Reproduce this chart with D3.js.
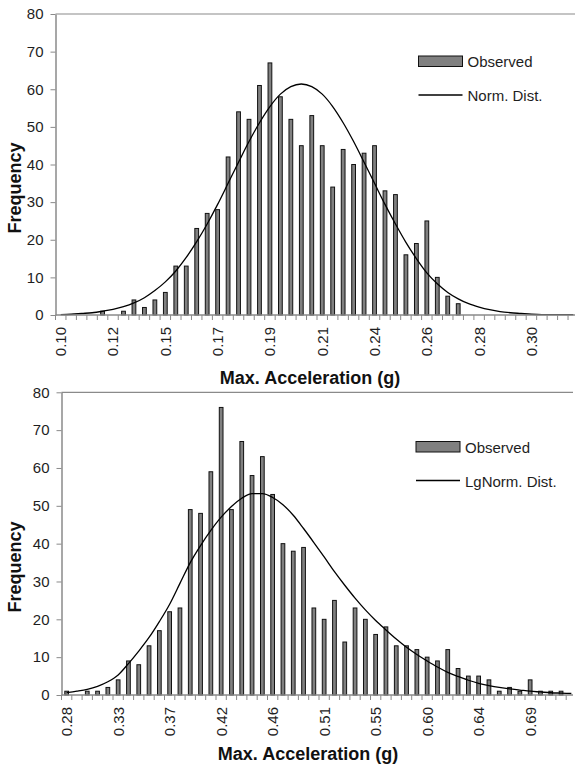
<!DOCTYPE html>
<html>
<head>
<meta charset="utf-8">
<script src="https://cdn.jsdelivr.net/npm/d3@7/dist/d3.min.js"></script>
<style>
  body { margin: 0; background: #fff; }
  text { font-family: "Liberation Sans", Arial, sans-serif; fill: #1e1e1e; }
</style>
</head>
<body>
<svg id="chart" width="576" height="765"></svg>
<script>
// *********** DATA ***************** //
// one value per bin, 50 bins per panel; labels are shown on every 5th bin
var yTicks = [0, 10, 20, 30, 40, 50, 60, 70, 80];

var topLabels = ["0.10", "0.12", "0.15", "0.17", "0.19", "0.21", "0.24", "0.26", "0.28", "0.30"];
var topObserved = [0, 0, 0, 0, 1, 0, 1, 4, 2, 4,
                   6, 13, 13, 23, 27, 28, 42, 54, 52, 61,
                   67, 58, 52, 45, 53, 45, 34, 44, 40, 43,
                   45, 33, 32, 16, 19, 25, 10, 5, 3, 0,
                   0, 0, 0, 0, 0, 0, 0, 0, 0, 0];
var topNormal = [0.1, 0.2, 0.4, 0.6, 1.0, 1.5, 2.2, 3.2, 4.6, 6.5,
                 8.8, 11.7, 15.3, 19.5, 24.2, 29.4, 35.0, 40.6, 46.1, 51.1,
                 55.4, 58.7, 60.7, 61.4, 60.7, 58.7, 55.4, 51.1, 46.1, 40.6,
                 35.0, 29.4, 24.2, 19.3, 15.0, 11.2, 8.3, 6.0, 4.3, 3.0,
                 2.1, 1.4, 0.9, 0.6, 0.4, 0.2, 0.1, 0.1, 0.1, 0.1];

var bottomLabels = ["0.28", "0.33", "0.37", "0.42", "0.46", "0.51", "0.55", "0.60", "0.64", "0.69"];
var bottomObserved = [1, 0, 1, 1, 2, 4, 9, 8, 13, 17,
                      22, 23, 49, 48, 59, 76, 49, 67, 58, 63,
                      53, 40, 38, 39, 23, 20, 25, 14, 23, 20,
                      16, 18, 13, 13, 12, 10, 9, 12, 7, 5,
                      5, 4, 1, 2, 1, 4, 1, 1, 1, 0];
var bottomLgNormal = [0.6, 1.0, 1.5, 2.3, 3.5, 5.3, 8.3, 11.6, 15.2, 19.4,
                      24.0, 29.5, 35.0, 39.5, 43.5, 47.0, 49.8, 52.0, 53.2, 53.2,
                      52.2, 50.3, 47.5, 44.0, 40.3, 36.5, 32.6, 29.0, 25.6, 22.5,
                      19.7, 17.2, 14.8, 12.6, 10.7, 9.0, 7.4, 6.0, 4.9, 3.9,
                      3.1, 2.5, 2.0, 1.6, 1.3, 1.0, 0.8, 0.6, 0.5, 0.4];

var svg = d3.select("#chart");

// *********** PANEL ***************** //
function drawPanel(opt) {
  var bins = d3.range(opt.observed.length);
  var x = d3.scaleBand()
    .domain(bins)
    .range([opt.left, opt.left + opt.step * bins.length]);
  var y = d3.scaleLinear()
    .domain([0, 80])
    .range([opt.bottom, opt.top]);
  var g = svg.append("g");
  var half = x.bandwidth() / 2;
  var barW = x.bandwidth() * 0.36;

  // top line at 80
  g.append("line")
    .attr("x1", opt.left).attr("x2", opt.axisEnd)
    .attr("y1", y(80)).attr("y2", y(80))
    .attr("stroke", "#8a8a8a")
    .attr("stroke-width", 1.2);

  // bars (empty bins are skipped)
  g.selectAll("rect.bar")
    .data(bins.filter(function(i) { return opt.observed[i] > 0; }))
    .enter().append("rect")
    .attr("class", "bar")
    .attr("x", function(i) { return x(i) + half - barW / 2; })
    .attr("y", function(i) { return y(opt.observed[i]); })
    .attr("width", barW)
    .attr("height", function(i) { return y(0) - y(opt.observed[i]); })
    .attr("fill", "#808080")
    .attr("stroke", "#111")
    .attr("stroke-width", 1);

  // fitted curve
  var line = d3.line()
    .x(function(d, i) { return x(i) + half; })
    .y(function(d) { return y(d); })
    .curve(d3.curveMonotoneX);
  g.append("path")
    .datum(opt.curve)
    .attr("d", line)
    .attr("fill", "none")
    .attr("stroke", "#000")
    .attr("stroke-width", 1.3);

  // y axis
  var yAxis = g.append("g")
    .attr("transform", "translate(" + opt.left + ",0)")
    .call(d3.axisLeft(y).tickValues(yTicks).tickSize(5).tickSizeOuter(0).tickPadding(7));
  yAxis.select(".domain").attr("stroke", "#8a8a8a").attr("stroke-width", 1.5);
  yAxis.selectAll(".tick line").attr("stroke", "#8a8a8a");
  yAxis.selectAll(".tick text")
    .style("font-size", "15px")
    .attr("fill", "#1e1e1e");

  // x axis line and bin ticks
  g.append("line")
    .attr("x1", opt.left).attr("x2", opt.axisEnd)
    .attr("y1", y(0)).attr("y2", y(0))
    .attr("stroke", "#8a8a8a")
    .attr("stroke-width", 1.5);
  var edges = bins.map(function(i) { return x(i); })
    .filter(function(v) { return v <= opt.axisEnd; });
  g.selectAll("line.xtick")
    .data(edges)
    .enter().append("line")
    .attr("class", "xtick")
    .attr("x1", function(d) { return d; }).attr("x2", function(d) { return d; })
    .attr("y1", y(0)).attr("y2", y(0) + 5)
    .attr("stroke", "#8a8a8a");

  // x labels, every 5th bin, rotated
  g.selectAll("text.xlab")
    .data(opt.labels)
    .enter().append("text")
    .attr("class", "xlab")
    .attr("transform", function(d, i) {
      return "translate(" + (x(i * 5) + half) + "," + (y(0) + 12) + ") rotate(-90)";
    })
    .attr("dy", "0.36em")
    .attr("text-anchor", "end")
    .style("font-size", "15px")
    .text(function(d) { return d; });

  // axis titles
  g.append("text")
    .attr("x", opt.titleX)
    .attr("y", opt.titleY)
    .attr("text-anchor", "middle")
    .style("font-weight", "bold")
    .style("font-size", "18px")
    .style("fill", "#111")
    .text("Max. Acceleration (g)");
  g.append("text")
    .attr("transform", "translate(21," + opt.yTitleY + ") rotate(-90)")
    .attr("text-anchor", "middle")
    .style("font-weight", "bold")
    .style("font-size", "18px")
    .style("fill", "#111")
    .text("Frequency");

  // legend
  g.append("rect")
    .attr("x", opt.legendX)
    .attr("y", opt.legendY - 5)
    .attr("width", 44)
    .attr("height", 10.5)
    .attr("fill", "#808080")
    .attr("stroke", "#111")
    .attr("stroke-width", 1);
  g.append("text")
    .attr("x", opt.legendX + 49)
    .attr("y", opt.legendY + 6)
    .style("font-size", "15px")
    .text("Observed");
  g.append("line")
    .attr("x1", opt.legendX).attr("x2", opt.legendX + 44)
    .attr("y1", opt.legendY + 34).attr("y2", opt.legendY + 34)
    .attr("stroke", "#000")
    .attr("stroke-width", 1.3);
  g.append("text")
    .attr("x", opt.legendX + 49)
    .attr("y", opt.legendY + 40)
    .style("font-size", "15px")
    .text(opt.curveName);
}

drawPanel({
  observed: topObserved, curve: topNormal, labels: topLabels, curveName: "Norm. Dist.",
  left: 55.5, step: 10.46, axisEnd: 575, top: 14, bottom: 315,
  titleX: 310, titleY: 384, yTitleY: 188,
  legendX: 418.5, legendY: 61
});

drawPanel({
  observed: bottomObserved, curve: bottomLgNormal, labels: bottomLabels, curveName: "LgNorm. Dist.",
  left: 61.5, step: 10.3, axisEnd: 573, top: 392.3, bottom: 695,
  titleX: 308, titleY: 760, yTitleY: 567,
  legendX: 416, legendY: 446.5
});
</script>
</body>
</html>
